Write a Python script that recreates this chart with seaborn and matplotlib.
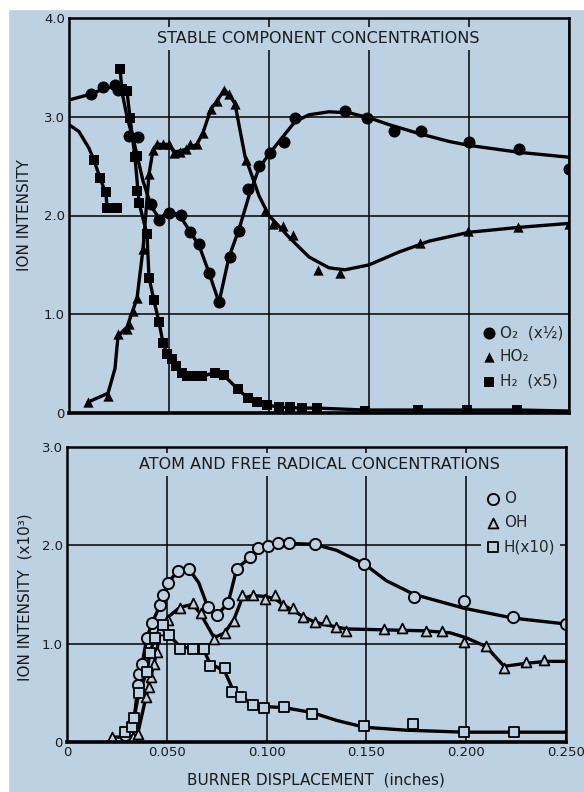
import numpy as np
import pandas as pd
import matplotlib
matplotlib.use('Agg')
import matplotlib.pyplot as plt
import seaborn as sns
from matplotlib.patches import Rectangle

# ---- top panel: stable components ----
o2_x = [0.011, 0.017, 0.023, 0.0245, 0.030, 0.0345, 0.041, 0.045, 0.050, 0.056, 0.0605, 0.065,
        0.070, 0.075, 0.0805, 0.085, 0.0895, 0.095, 0.1005, 0.1075, 0.113, 0.138, 0.149, 0.1625,
        0.176, 0.200, 0.225, 0.250]
o2_y = [3.23, 3.30, 3.32, 3.27, 2.81, 2.80, 2.12, 1.95, 2.03, 2.01, 1.83, 1.71,
        1.42, 1.12, 1.58, 1.84, 2.27, 2.50, 2.63, 2.74, 2.99, 3.06, 2.99, 2.86,
        2.86, 2.74, 2.67, 2.47]
o2_cx = [0.0, 0.011, 0.017, 0.023, 0.026, 0.029, 0.033, 0.037, 0.041, 0.045, 0.048, 0.053, 0.057,
         0.061, 0.065, 0.070, 0.075, 0.080, 0.085, 0.090, 0.095, 0.100, 0.107, 0.113, 0.120,
         0.130, 0.140, 0.150, 0.160, 0.175, 0.190, 0.200, 0.225, 0.250]
o2_cy = [3.17, 3.23, 3.28, 3.31, 3.30, 3.00, 2.70, 2.35, 2.10, 1.97, 2.01, 2.02, 1.95,
         1.82, 1.70, 1.42, 1.12, 1.58, 1.86, 2.20, 2.48, 2.62, 2.80, 2.95, 3.02,
         3.05, 3.04, 2.99, 2.92, 2.83, 2.75, 2.71, 2.64, 2.59]

ho2_x = [0.0095, 0.0195, 0.0245, 0.029, 0.030, 0.032, 0.034, 0.037, 0.040, 0.042, 0.044, 0.047,
         0.050, 0.0525, 0.0555, 0.0585, 0.0605, 0.064, 0.067, 0.071, 0.074, 0.0775, 0.080, 0.083,
         0.0885, 0.098, 0.102, 0.107, 0.112, 0.1245, 0.1355, 0.1755, 0.1995, 0.2245, 0.250]
ho2_y = [0.11, 0.17, 0.80, 0.85, 0.90, 1.03, 1.16, 1.66, 2.42, 2.66, 2.72, 2.72,
         2.72, 2.63, 2.64, 2.67, 2.72, 2.72, 2.84, 3.08, 3.16, 3.27, 3.23, 3.13,
         2.56, 2.05, 1.91, 1.89, 1.80, 1.45, 1.42, 1.72, 1.84, 1.88, 1.91]
ho2_cx = [0.0095, 0.0195, 0.023, 0.0245, 0.029, 0.034, 0.037, 0.040, 0.042, 0.044, 0.050,
          0.0525, 0.0585, 0.064, 0.067, 0.071, 0.074, 0.0775, 0.080, 0.083, 0.088, 0.095,
          0.100, 0.110, 0.120, 0.130, 0.138, 0.150, 0.165, 0.180, 0.200, 0.225, 0.250]
ho2_cy = [0.11, 0.20, 0.45, 0.78, 0.87, 1.16, 1.66, 2.42, 2.66, 2.72, 2.72,
          2.64, 2.67, 2.72, 2.84, 3.08, 3.16, 3.27, 3.23, 3.13, 2.60, 2.20,
          2.00, 1.78, 1.58, 1.47, 1.45, 1.50, 1.63, 1.74, 1.83, 1.88, 1.92]

h2_x = [0.0125, 0.0155, 0.0185, 0.019, 0.0215, 0.024,
        0.0255, 0.0265, 0.029, 0.0305, 0.033, 0.034, 0.034, 0.035, 0.039, 0.040, 0.0425, 0.045,
        0.047, 0.049, 0.0515, 0.0535, 0.0565, 0.059, 0.062, 0.0665, 0.073, 0.0775, 0.0845,
        0.0895, 0.094, 0.099, 0.105, 0.1105, 0.1165, 0.124, 0.148, 0.1745, 0.199, 0.224]
h2_y = [2.56, 2.38, 2.24, 2.08, 2.08, 2.08,
        3.48, 3.28, 3.26, 2.99, 2.59, 2.60, 2.25, 2.13, 1.81, 1.37, 1.14, 0.92,
        0.71, 0.60, 0.55, 0.48, 0.41, 0.37, 0.37, 0.37, 0.41, 0.38, 0.24,
        0.15, 0.11, 0.08, 0.06, 0.06, 0.05, 0.05, 0.02, 0.03, 0.03, 0.03]
h2a_cx = [0.0, 0.005, 0.010, 0.0125, 0.0155, 0.0185, 0.019, 0.024]
h2a_cy = [2.92, 2.85, 2.68, 2.56, 2.38, 2.22, 2.08, 2.08]
h2b_cx = [0.0255, 0.0265, 0.029, 0.0305, 0.033, 0.035, 0.039, 0.040, 0.0425, 0.045, 0.047, 0.049,
          0.0515, 0.0535, 0.0565, 0.059, 0.0665, 0.073, 0.0775, 0.0845, 0.0895, 0.094, 0.099,
          0.105, 0.1165, 0.124, 0.148, 0.175, 0.200, 0.225, 0.250]
h2b_cy = [3.48, 3.28, 3.26, 2.99, 2.59, 2.13, 1.81, 1.37, 1.14, 0.92, 0.71, 0.60,
          0.55, 0.48, 0.41, 0.37, 0.37, 0.41, 0.38, 0.24, 0.15, 0.11, 0.08,
          0.06, 0.05, 0.05, 0.03, 0.03, 0.03, 0.03, 0.02]

# ---- bottom panel: atoms and radicals ----
o_x = [0.029, 0.033, 0.0356, 0.036, 0.0376, 0.040, 0.0426, 0.0466, 0.048, 0.0506, 0.0556, 0.061,
       0.0706, 0.075, 0.0807, 0.085, 0.0917, 0.0957, 0.1007, 0.1057, 0.111, 0.124, 0.149, 0.174,
       0.199, 0.2235, 0.250]
o_y = [0.07, 0.12, 0.58, 0.69, 0.79, 1.06, 1.21, 1.39, 1.50, 1.62, 1.74, 1.76,
       1.37, 1.29, 1.41, 1.76, 1.88, 1.97, 1.99, 2.02, 2.02, 2.01, 1.81, 1.47,
       1.43, 1.27, 1.20]
o_cx = [0.029, 0.033, 0.0356, 0.0376, 0.040, 0.0426, 0.0466, 0.0506, 0.0556, 0.061, 0.066,
        0.0706, 0.075, 0.0807, 0.085, 0.0917, 0.0957, 0.1007, 0.1057, 0.111, 0.124, 0.135,
        0.149, 0.160, 0.174, 0.199, 0.2235, 0.250]
o_cy = [0.05, 0.12, 0.58, 0.79, 1.06, 1.21, 1.39, 1.62, 1.74, 1.76, 1.62,
        1.37, 1.29, 1.41, 1.76, 1.88, 1.97, 1.99, 2.02, 2.02, 2.01, 1.95,
        1.81, 1.64, 1.50, 1.36, 1.26, 1.20]

oh_x = [0.0225, 0.033, 0.0356, 0.0396, 0.041, 0.042, 0.0436, 0.045, 0.0466, 0.0506, 0.0566, 0.063,
        0.067, 0.0737, 0.079, 0.0837, 0.0877, 0.093, 0.099, 0.104, 0.108, 0.113, 0.118, 0.124,
        0.130, 0.135, 0.140, 0.159, 0.168, 0.180, 0.188, 0.199, 0.210, 0.219, 0.230, 0.239]
oh_y = [0.05, 0.05, 0.08, 0.46, 0.56, 0.66, 0.79, 0.92, 1.14, 1.24, 1.36, 1.41,
        1.31, 1.05, 1.11, 1.23, 1.50, 1.50, 1.45, 1.50, 1.39, 1.36, 1.27, 1.22,
        1.24, 1.17, 1.13, 1.15, 1.16, 1.13, 1.13, 1.02, 0.98, 0.75, 0.81, 0.83]
oh_cx = [0.0225, 0.030, 0.0356, 0.0396, 0.042, 0.045, 0.0466, 0.0506, 0.0566, 0.063, 0.067,
         0.0737, 0.079, 0.0837, 0.0877, 0.093, 0.099, 0.104, 0.108, 0.113, 0.118, 0.124,
         0.130, 0.140, 0.160, 0.180, 0.192, 0.200, 0.210, 0.219, 0.230, 0.240, 0.250]
oh_cy = [0.05, 0.05, 0.10, 0.46, 0.66, 0.92, 1.14, 1.27, 1.37, 1.40, 1.30,
         1.06, 1.11, 1.25, 1.46, 1.49, 1.48, 1.46, 1.40, 1.34, 1.28, 1.22,
         1.19, 1.15, 1.14, 1.13, 1.11, 1.06, 0.97, 0.77, 0.80, 0.82, 0.82]

h_x = [0.029, 0.0326, 0.0336, 0.036, 0.040, 0.0416, 0.044, 0.048, 0.051, 0.0566, 0.063, 0.0686,
       0.0716, 0.079, 0.0827, 0.087, 0.093, 0.0987, 0.1087, 0.1227, 0.149, 0.1733, 0.199, 0.224]
h_y = [0.10, 0.15, 0.24, 0.50, 0.71, 0.91, 1.06, 1.19, 1.09, 0.95, 0.95, 0.95,
       0.77, 0.75, 0.51, 0.46, 0.38, 0.35, 0.36, 0.28, 0.16, 0.18, 0.10, 0.10]
h_cx = [0.029, 0.0326, 0.0336, 0.036, 0.040, 0.0416, 0.044, 0.048, 0.051, 0.0566, 0.063,
        0.0686, 0.0716, 0.079, 0.0827, 0.087, 0.093, 0.0987, 0.1087, 0.1227, 0.135,
        0.149, 0.170, 0.199, 0.224, 0.250]
h_cy = [0.07, 0.15, 0.24, 0.50, 0.71, 0.91, 1.06, 1.15, 1.09, 0.97, 0.95,
        0.93, 0.80, 0.72, 0.55, 0.46, 0.39, 0.36, 0.35, 0.30, 0.22,
        0.15, 0.12, 0.10, 0.10, 0.10]

x_ticks = [0, 0.05, 0.10, 0.15, 0.20, 0.25]
x_labels = ['0', '0.050', '0.100', '0.150', '0.200', '0.250']
top_yticks = [0, 1, 2, 3, 4]
top_ylabels = ['0', '1.0', '2.0', '3.0', '4.0']
bot_yticks = [0, 1, 2, 3]
bot_ylabels = ['0', '1.0', '2.0', '3.0']

bg = '#bcd2e3'

sns.set_theme(style='white')
plt.rcParams['font.family'] = ['DejaVu Sans']

W, H = 584, 792
fig = plt.figure(figsize=(W / 100, H / 100), dpi=100, facecolor=bg)
fig.patches.append(Rectangle((0, 0), 8 / W, 1, transform=fig.transFigure, color='white', zorder=-5))
fig.patches.append(Rectangle((0, 1 - 9 / H), 1, 9 / H, transform=fig.transFigure, color='white', zorder=-5))

ax1 = fig.add_axes([69 / W, 1 - 413 / H, 500 / W, 395 / H])
ax2 = fig.add_axes([67 / W, 1 - 742 / H, 499 / W, 295 / H])


def curve(ax, cx, cy):
    sns.lineplot(x=cx, y=cy, ax=ax, color='black', linewidth=2.4, sort=False,
                 estimator=None, zorder=3)


def style(ax, yt, yl, ymax, show_x):
    ax.set_facecolor(bg)
    ax.set_xlim(0, 0.25)
    ax.set_ylim(0, ymax)
    ax.set_xticks(x_ticks)
    ax.set_xticklabels(x_labels if show_x else [])
    ax.set_yticks(yt)
    ax.set_yticklabels(yl)
    ax.grid(True, color='black', linewidth=1.1)
    ax.set_axisbelow(True)
    ax.tick_params(length=0, labelsize=9.5, pad=3, colors='#1a1a1a')
    for s in ax.spines.values():
        s.set_color('black')
        s.set_linewidth(1.8)
        s.set_zorder(7)
    ax.spines['bottom'].set_linewidth(2.6)
    ax.set_xlabel('')
    ax.set_ylabel('')


# top panel
curve(ax1, o2_cx, o2_cy)
curve(ax1, ho2_cx, ho2_cy)
curve(ax1, h2a_cx, h2a_cy)
curve(ax1, h2b_cx, h2b_cy)
sns.scatterplot(x=o2_x, y=o2_y, ax=ax1, marker='o', s=75, color='black', linewidth=0,
                zorder=4, label='O\u2082  (x\u00bd)')
sns.scatterplot(x=ho2_x, y=ho2_y, ax=ax1, marker='^', s=55, color='black', linewidth=0,
                zorder=4, label='HO\u2082')
sns.scatterplot(x=h2_x, y=h2_y, ax=ax1, marker='s', s=50, color='black', linewidth=0,
                zorder=4, label='H\u2082  (x5)')
style(ax1, top_yticks, top_ylabels, 4.0, False)
ax1.text(0.1245, 3.79, 'STABLE COMPONENT CONCENTRATIONS', ha='center', va='center',
         fontsize=11.5, color='#1a1a1a', zorder=6,
         bbox=dict(facecolor=bg, edgecolor='none', pad=3))
leg1 = ax1.legend(loc='upper left', bbox_to_anchor=(0.80, 0.253), frameon=False,
                  fontsize=11, handletextpad=0.2, handlelength=1.0, labelspacing=0.6,
                  borderpad=0.3)
leg1.set_zorder(6)

# bottom panel
curve(ax2, o_cx, o_cy)
curve(ax2, oh_cx, oh_cy)
curve(ax2, h_cx, h_cy)
sns.scatterplot(x=o_x, y=o_y, ax=ax2, marker='o', s=65, color=bg, edgecolor='black',
                linewidth=1.4, zorder=4, label='O')
sns.scatterplot(x=oh_x, y=oh_y, ax=ax2, marker='^', s=50, color=bg, edgecolor='black',
                linewidth=1.3, zorder=4, label='OH')
sns.scatterplot(x=h_x, y=h_y, ax=ax2, marker='s', s=45, color=bg, edgecolor='black',
                linewidth=1.3, zorder=4, label='H(x10)')
style(ax2, bot_yticks, bot_ylabels, 3.0, True)
ax2.text(0.1265, 2.82, 'ATOM AND FREE RADICAL CONCENTRATIONS', ha='center', va='center',
         fontsize=11.5, color='#1a1a1a', zorder=6,
         bbox=dict(facecolor=bg, edgecolor='none', pad=3))
leg2 = ax2.legend(loc='upper left', bbox_to_anchor=(0.814, 0.892), frameon=True,
                  facecolor=bg, edgecolor='none', framealpha=1, fontsize=11,
                  handletextpad=0.2, handlelength=1.0, labelspacing=0.6, borderpad=0.3)
leg2.set_zorder(2.4)

fig.text(25 / W, 1 - 215 / H, 'ION INTENSITY', rotation=90, ha='center', va='center',
         fontsize=11, color='#1a1a1a')
fig.text(25 / W, 1 - 597 / H, 'ION INTENSITY  (x10\u00b3)', rotation=90, ha='center', va='center',
         fontsize=11, color='#1a1a1a')
fig.text(316 / W, 1 - 780 / H, 'BURNER DISPLACEMENT  (inches)', ha='center', va='center',
         fontsize=11, color='#1a1a1a')

fig.savefig('out.png', dpi=100, facecolor=bg)
